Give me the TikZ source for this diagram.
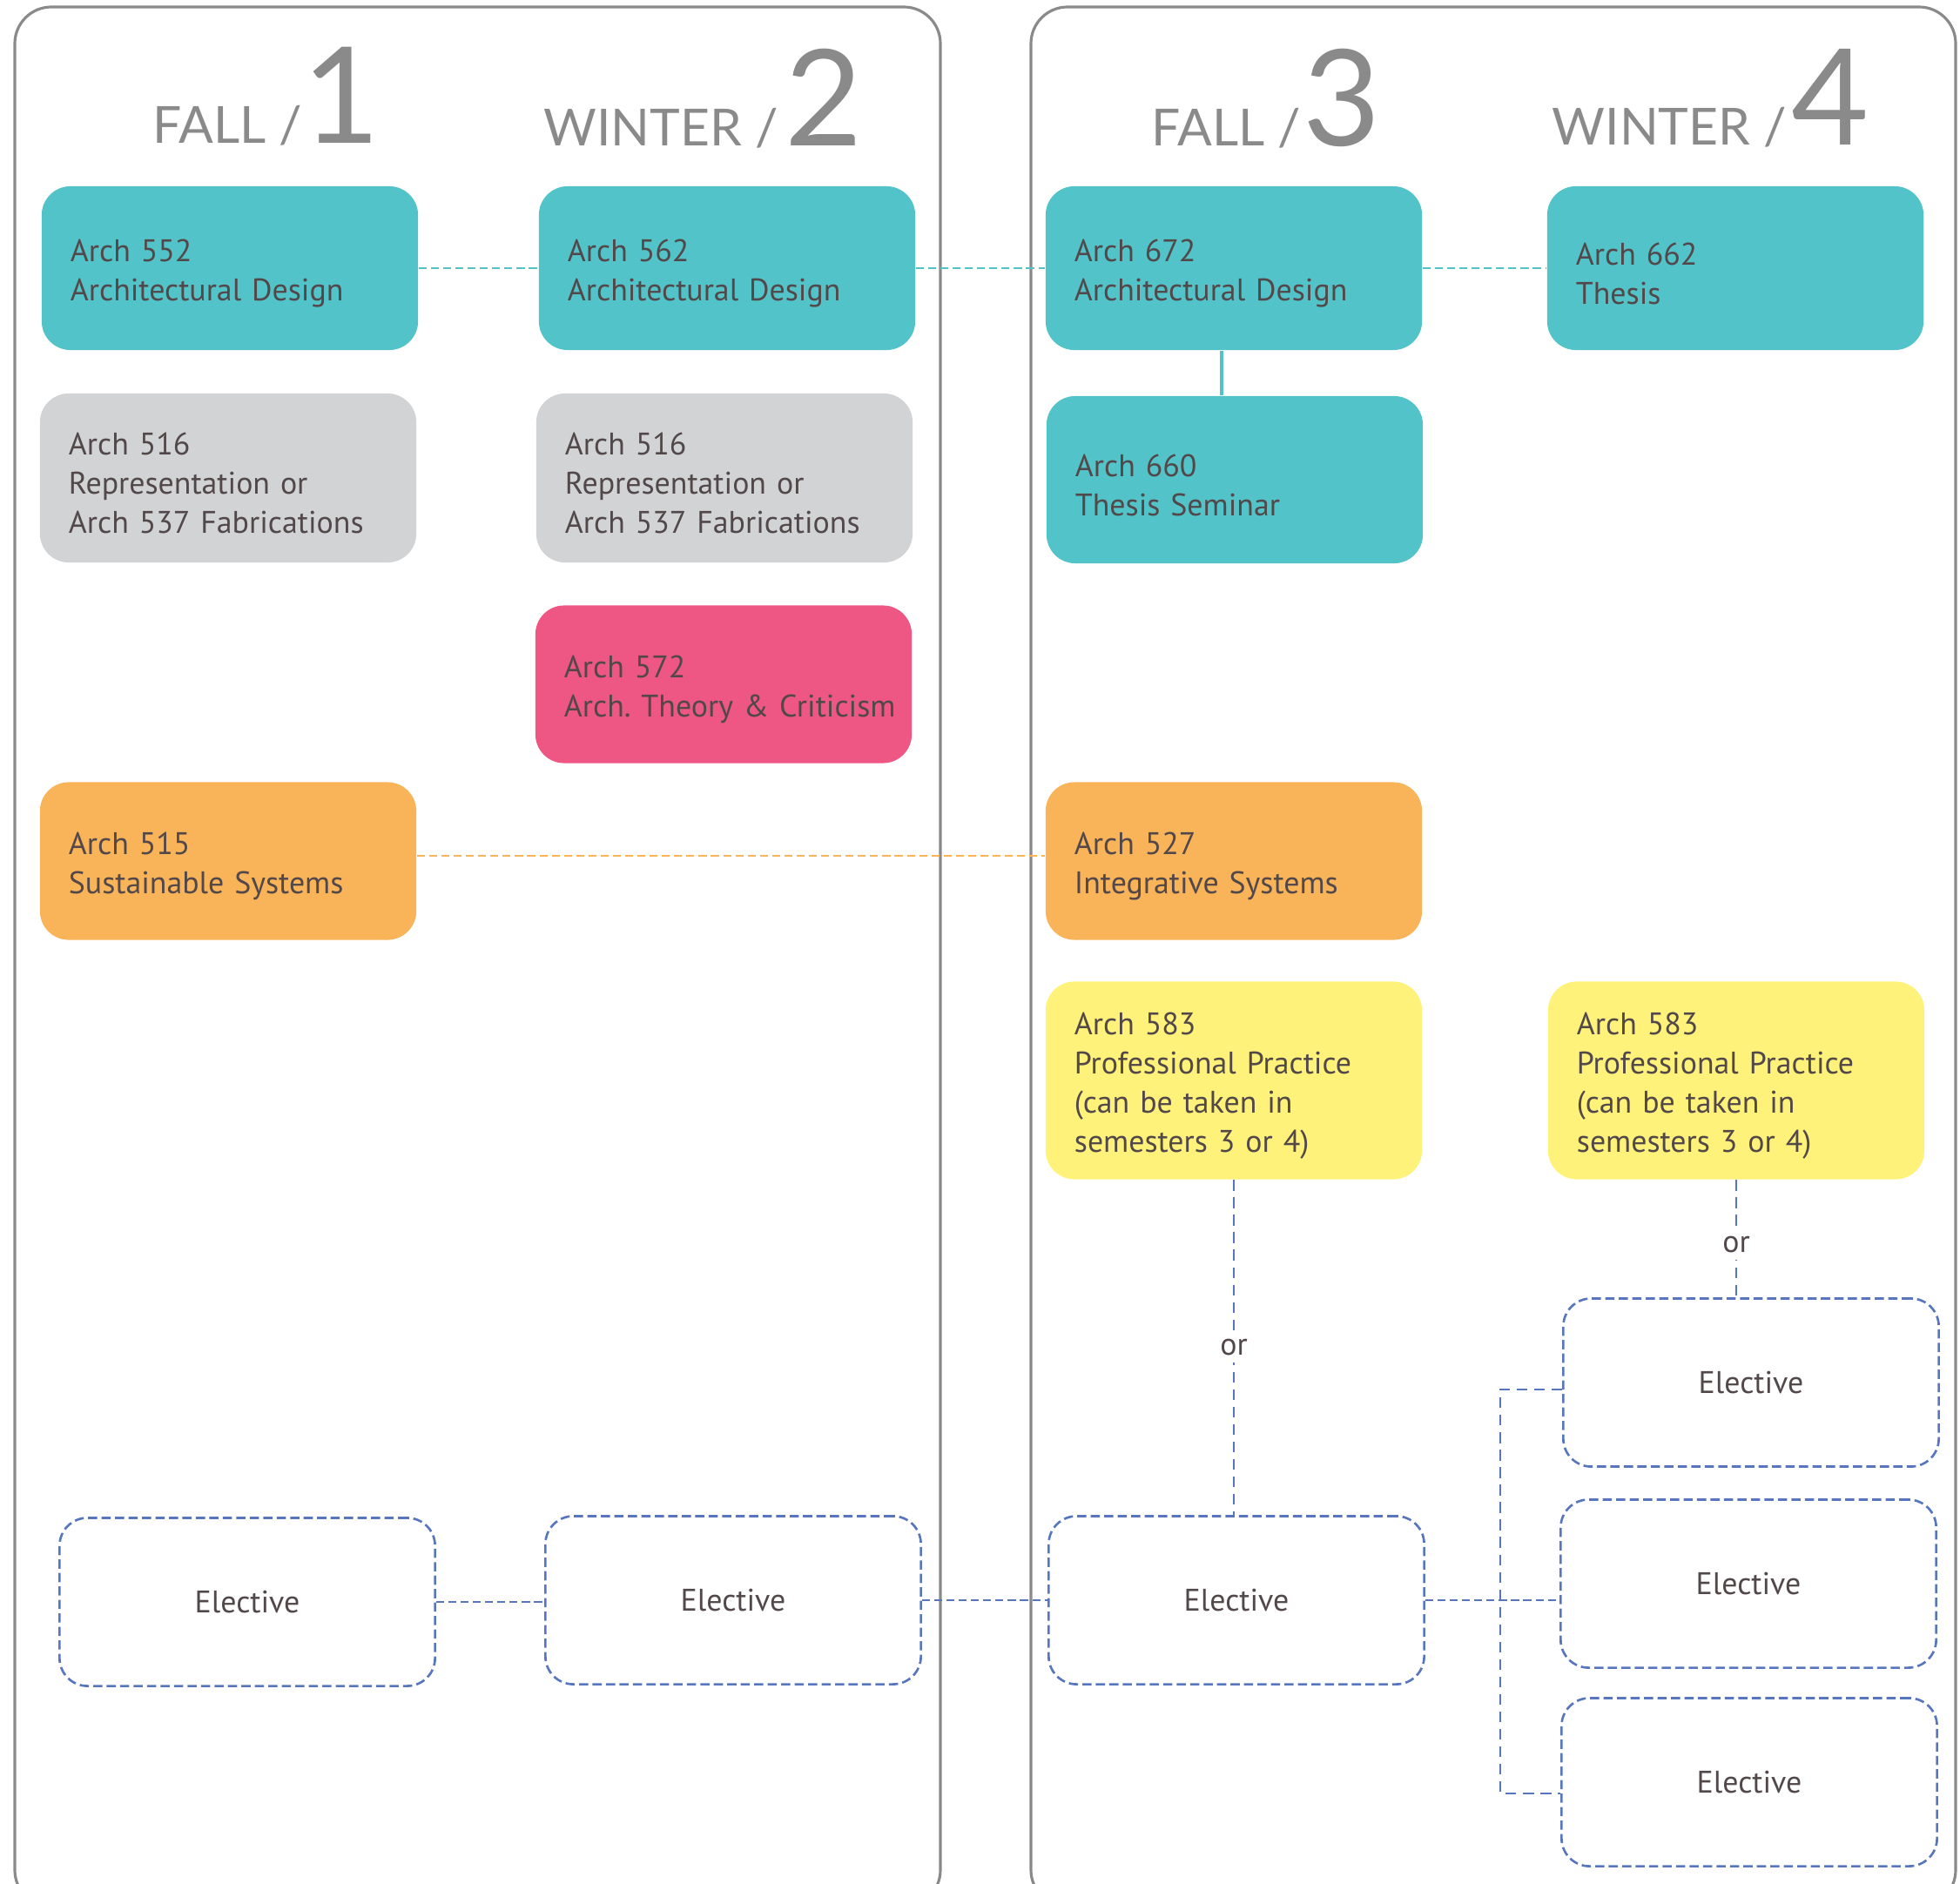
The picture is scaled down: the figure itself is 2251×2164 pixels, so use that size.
\documentclass[tikz,border=0pt]{standalone}
\usepackage{fontspec}
\setmainfont{PT Sans}
\newfontfamily\headfont{Lato}

\definecolor{archteal}{RGB}{82,195,200}
\definecolor{archgray}{RGB}{209,211,212}
\definecolor{archpink}{RGB}{238,87,132}
\definecolor{archorange}{RGB}{249,180,89}
\definecolor{archyellow}{RGB}{255,242,122}
\definecolor{elecblue}{RGB}{88,118,190}
\definecolor{framegray}{RGB}{138,138,138}
\definecolor{bodytext}{RGB}{82,72,74}

\newcommand\coursefont{\fontsize{10.2pt}{12.8pt}\selectfont}
\newcommand\headsmall{\headfont\fontsize{16.7pt}{18pt}\selectfont}
\newcommand\headbig{\headfont\fontsize{43.7pt}{46pt}\selectfont}

\begin{document}
\begin{tikzpicture}[x=0.01cm, y=-0.01cm,
    course/.style={rounded corners=0.33cm, text width=3.66cm, inner xsep=0.33cm,
        inner ysep=0pt, align=left, font=\coursefont, text=bodytext,
        execute at begin node={\rule{0pt}{0.38cm}}},
    elective/.style={draw=elecblue, line width=0.75pt, dash pattern=on 3pt off 1.4pt,
        rounded corners=0.32cm, minimum width=4.31cm, minimum height=1.93cm,
        font=\coursefont, text=bodytext},
    panel/.style={draw=framegray, line width=0.9pt, rounded corners=0.42cm},
    term/.style={anchor=base west, inner sep=0pt, text=framegray},
    hdash/.style={line width=0.75pt, dash pattern=on 2.6pt off 1.4pt},
    vdash/.style={draw=elecblue, line width=0.75pt, dash pattern=on 3.5pt off 2.2pt},
    ortag/.style={fill=white, inner sep=0.08cm, font=\coursefont, text=bodytext}]

    % Fix the page to the size of the reference
    \useasboundingbox (0,0) rectangle (2251,2164);

    % The two year panels
    \draw[panel] (17,8) rectangle (1080,2190);
    \draw[panel] (1184,8) rectangle (2246,2190);

    % Term headings
    \node[term] (hfall1) at (175,165) {\headsmall FALL /\hspace{0.0cm}\headbig 1};
    \node[term] (hwinter2) at (624,168) {\headsmall WINTER /\hspace{0.08cm}\headbig 2};
    \node[term] (hfall3) at (1322,168) {\headsmall FALL /\hspace{0.02cm}\headbig 3};
    \node[term] (hwinter4) at (1782,167) {\headsmall WINTER /\hspace{0.06cm}\headbig 4};

    % Design studio row
    \node[course, fill=archteal, minimum height=1.88cm] (a552) at (264,308) {Arch 552\\Architectural Design};
    \node[course, fill=archteal, minimum height=1.88cm] (a562) at (835,308) {Arch 562\\Architectural Design};
    \node[course, fill=archteal, minimum height=1.88cm] (a672) at (1417,308) {Arch 672\\Architectural Design};
    \node[course, fill=archteal, minimum height=1.88cm] (a662) at (1993,308) {Arch 662\\Thesis};

    % Representation and thesis seminar
    \node[course, fill=archgray, minimum height=1.94cm] (a516a) at (262,549) {Arch 516\\Representation or\\Arch 537 Fabrications};
    \node[course, fill=archgray, minimum height=1.94cm] (a516b) at (832,549) {Arch 516\\Representation or\\Arch 537 Fabrications};
    \node[course, fill=archteal, minimum height=1.92cm] (a660) at (1418,551) {Arch 660\\Thesis Seminar};

    % Theory
    \node[course, fill=archpink, minimum height=1.81cm] (a572) at (831,786) {Arch 572\\\makebox[3.66cm][l]{Arch.\ Theory \& Criticism}};

    % Systems
    \node[course, fill=archorange, minimum height=1.81cm] (a515) at (262,989) {Arch 515\\Sustainable Systems};
    \node[course, fill=archorange, minimum height=1.81cm] (a527) at (1417,989) {Arch 527\\Integrative Systems};

    % Professional practice
    \node[course, fill=archyellow, minimum height=2.27cm] (a583a) at (1417,1241) {Arch 583\\Professional Practice\\(can be taken in\\semesters 3 or 4)};
    \node[course, fill=archyellow, minimum height=2.27cm] (a583b) at (1994,1241) {Arch 583\\Professional Practice\\(can be taken in\\semesters 3 or 4)};

    % Electives
    \node[elective] (e1) at (284,1840) {Elective};
    \node[elective] (e2) at (842,1838) {Elective};
    \node[elective] (e3) at (1420,1838) {Elective};
    \node[elective] (e4) at (2011,1588) {Elective};
    \node[elective] (e5) at (2008,1819) {Elective};
    \node[elective] (e6) at (2009,2047) {Elective};

    % Studio sequence links
    \draw[hdash, archteal] (a552) -- (a562);
    \draw[hdash, archteal] (a562) -- (a672);
    \draw[hdash, archteal] (a672) -- (a662);
    \draw[line width=1pt, archteal] ([xshift=-0.14cm]a672.south) -- ([xshift=-0.14cm]a672.south |- a660.north);

    % Systems link
    \draw[hdash, archorange] ([yshift=0.06cm]a515.east) -- ([yshift=0.06cm]a515.east -| a527.west);

    % Elective links
    \coordinate (ttop) at (1723,1596);
    \coordinate (tbot) at (1723,2060);
    \draw[hdash, elecblue] (e1.east) -- (e1.east -| e2.west);
    \draw[hdash, elecblue] (e2.east) -- (e2.east -| e3.west);
    \draw[hdash, elecblue] (e3.east) -- (e3.east -| e5.west);
    \draw[vdash] (ttop -| e4.west) -- (ttop) -- (tbot) -- (tbot -| e6.west);

    % Practice or elective
    \draw[vdash] (a583a.south) -- node[ortag] {or} (a583a.south |- e3.north);
    \draw[vdash] (a583b.south) -- node[ortag, pos=0.55] {or} (a583b.south |- e4.north);

\end{tikzpicture}
\end{document}
